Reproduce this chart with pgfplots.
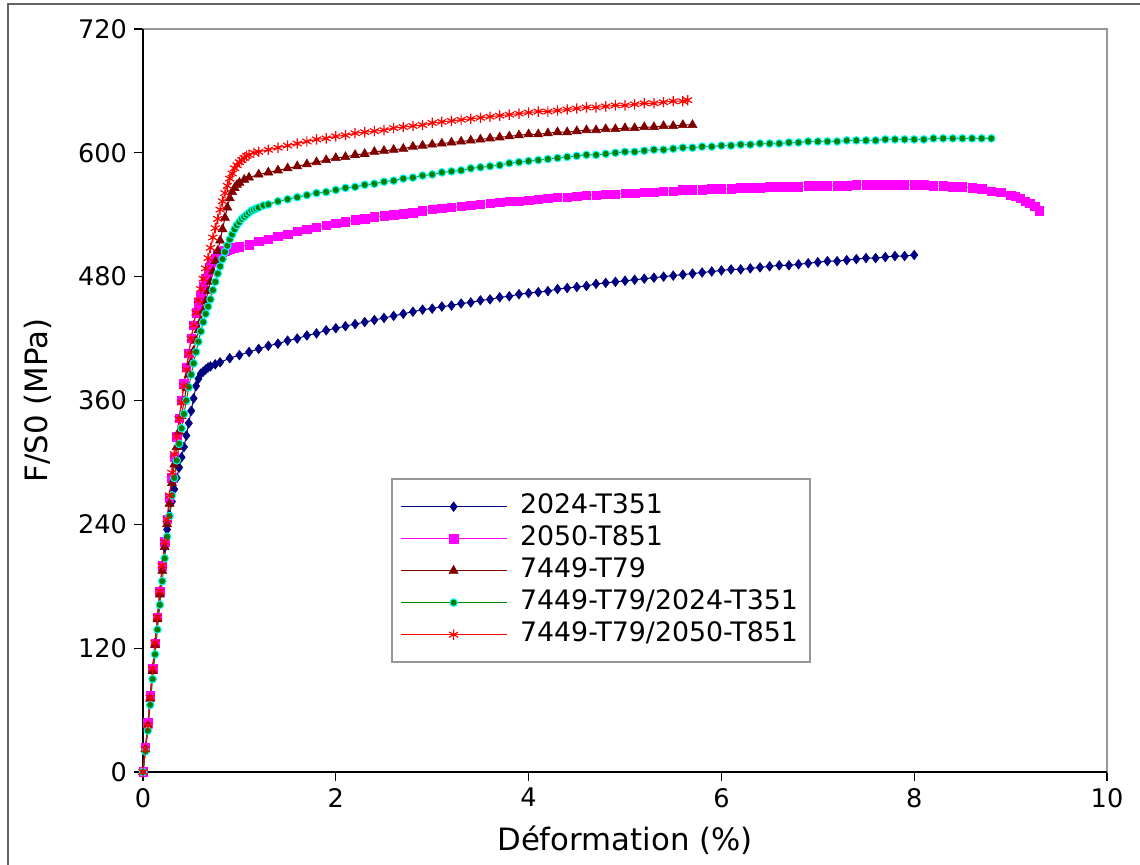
\documentclass[border=0pt]{standalone}
\usepackage{pgfplots}
\pgfplotsset{compat=1.18}
\usepackage{fontspec}
\setmainfont{DejaVu Sans}
\definecolor{cnavy}{RGB}{0,0,128}
\definecolor{cmag}{RGB}{255,0,255}
\definecolor{cmar}{RGB}{128,0,0}
\definecolor{cgrn}{RGB}{0,128,0}
\definecolor{ccyan}{RGB}{0,255,255}
\definecolor{cred}{RGB}{255,0,0}
\definecolor{cframe}{RGB}{100,100,100}
\definecolor{caxis}{RGB}{150,150,150}
\begin{document}
\begin{tikzpicture}
\useasboundingbox (0,0) rectangle (570pt,432.5pt);
\draw[cframe, line width=0.8pt] (4pt,-20pt) rectangle (600pt,430.5pt);
\begin{axis}[
  at={(71.5pt,46.5pt)}, anchor=south west,
  scale only axis, width=482pt, height=371.5pt,
  xmin=0, xmax=10, ymin=0, ymax=720,
  xtick={0,2,4,6,8,10}, ytick={0,120,240,360,480,600,720},
  xtick pos=bottom, ytick pos=left,
  tick align=outside, major tick length=4.5pt,
  tick style={black, line width=0.6pt},
  axis line style={caxis, line width=1pt},
  clip=false,
  /pgf/number format/assume math mode=true,
  tick label style={font=\fontsize{12.8}{15}\selectfont},
  label style={font=\fontsize{15.4}{18}\selectfont},
  xlabel={Déformation (\%)},
  ylabel={F/S0 (MPa)},
  xlabel style={at={(axis description cs:0.5,-0.0915)}, anchor=center},
  ylabel style={at={(axis description cs:-0.1089,0.5)}, anchor=center},
  legend cell align=left,
  legend style={name=leg, at={(0.258,0.394)}, anchor=north west, draw=none, fill=white,
    font=\fontsize{13.4}{16}\selectfont, inner xsep=4pt, inner ysep=5.5pt,
    nodes={inner sep=2pt, text height=9.5pt, text depth=2.5pt}, row sep=0pt,
    /tikz/every odd column/.append style={column sep=4.5pt}},
  legend image code/.code={\draw[mark repeat=2,mark phase=2] plot coordinates {(0pt,0pt) (26.5pt,0pt) (53pt,0pt)};},
]
\draw[black, line width=1pt] (rel axis cs:0,1) -- (rel axis cs:0,0) -- (rel axis cs:1,0);

\addplot[cnavy, line width=0.5pt, mark=diamond*, mark size=2.4pt, mark options={fill=cnavy, draw=cnavy, line width=0.3pt}] coordinates {
(0,0)(0.025,22)(0.05,45)(0.075,72)(0.1,100)(0.125,125)(0.15,150)(0.175,175)(0.2,200)(0.225,218)(0.25,235)(0.275,249)(0.3,262)(0.325,274)(0.35,285)(0.375,295)(0.4,305)(0.425,315)(0.45,326)(0.475,338)(0.5,350)(0.525,362)(0.55,374)(0.575,381)(0.6,386)(0.625,388)(0.65,390)(0.675,392)(0.7,393)(0.75,395)(0.8,397)(0.9,401)(1.0,404)(1.1,407)(1.2,410)(1.3,413)(1.4,415)(1.5,418)(1.6,420)(1.7,423)(1.8,425)(1.9,428)(2.0,430)(2.1,432)(2.2,434)(2.3,436)(2.4,438)(2.5,440)(2.6,442)(2.7,444)(2.8,446)(2.9,448)(3.0,449)(3.1,451)(3.2,452)(3.3,454)(3.4,455)(3.5,457)(3.6,458)(3.7,460)(3.8,461)(3.9,463)(4.0,464)(4.1,465)(4.2,466)(4.3,468)(4.4,469)(4.5,470)(4.6,471)(4.7,473)(4.8,474)(4.9,475)(5.0,476)(5.1,477)(5.2,478)(5.3,479)(5.4,480)(5.5,481)(5.6,482)(5.7,483)(5.8,484)(5.9,485)(6.0,486)(6.1,487)(6.2,487)(6.3,488)(6.4,489)(6.5,490)(6.6,491)(6.7,491)(6.8,492)(6.9,493)(7.0,494)(7.1,495)(7.2,495)(7.3,496)(7.4,497)(7.5,498)(7.6,498)(7.7,499)(7.8,500)(7.9,500)(8.0,501)
};
\addlegendentry{2024-T351}

\addplot[cmag, line width=0.5pt, mark=square*, mark size=2.1pt, mark options={fill=cmag, draw=cmag, line width=0.3pt}] coordinates {
(0,0)(0.025,24)(0.05,48)(0.075,74)(0.1,100)(0.125,125)(0.15,150)(0.175,175)(0.2,200)(0.225,223)(0.25,245)(0.275,265)(0.3,285)(0.325,305)(0.35,325)(0.375,343)(0.4,360)(0.425,376)(0.45,392)(0.475,406)(0.5,420)(0.525,433)(0.55,445)(0.575,454)(0.6,462)(0.625,470)(0.65,478)(0.675,484)(0.7,490)(0.725,494)(0.75,498)(0.775,501)(0.8,503)(0.825,504)(0.85,505)(0.875,506)(0.9,507)(0.95,508)(1.0,509)(1.1,511)(1.2,514)(1.3,516)(1.4,519)(1.5,521)(1.6,524)(1.7,526)(1.8,528)(1.9,530)(2.0,532)(2.1,533)(2.2,535)(2.3,536)(2.4,538)(2.5,539)(2.6,540)(2.7,541)(2.8,542)(2.9,544)(3.0,545)(3.1,546)(3.2,547)(3.3,548)(3.4,549)(3.5,550)(3.6,551)(3.7,552)(3.8,553)(3.9,553)(4.0,554)(4.1,555)(4.2,556)(4.3,557)(4.4,557)(4.5,558)(4.6,559)(4.7,559)(4.8,560)(4.9,560)(5.0,561)(5.1,561)(5.2,562)(5.3,562)(5.4,563)(5.5,563)(5.6,564)(5.7,564)(5.8,564)(5.9,565)(6.0,565)(6.1,565)(6.2,566)(6.3,566)(6.4,566)(6.5,567)(6.6,567)(6.7,567)(6.8,567)(6.9,568)(7.0,568)(7.1,568)(7.2,568)(7.3,568)(7.4,569)(7.5,569)(7.6,569)(7.7,569)(7.8,569)(7.9,569)(8.0,569)(8.1,569)(8.2,568)(8.3,568)(8.4,567)(8.5,567)(8.6,566)(8.7,565)(8.8,563)(8.9,562)(9.0,559)(9.05,558)(9.1,556)(9.15,553)(9.2,551)(9.25,548)(9.3,544)
};
\addlegendentry{2050-T851}

\addplot[cmar, line width=0.5pt, mark=triangle*, mark size=2.6pt, mark options={fill=cmar, draw=cmar, line width=0.3pt}] coordinates {
(0,0)(0.025,22)(0.05,45)(0.075,71)(0.1,98)(0.125,123)(0.15,148)(0.175,172)(0.2,195)(0.225,218)(0.25,240)(0.275,260)(0.3,280)(0.325,298)(0.35,315)(0.375,330)(0.4,345)(0.425,359)(0.45,372)(0.475,385)(0.5,397)(0.525,408)(0.55,418)(0.575,428)(0.6,437)(0.625,447)(0.65,456)(0.675,466)(0.7,475)(0.725,485)(0.75,495)(0.775,505)(0.8,515)(0.825,526)(0.85,537)(0.875,547)(0.9,556)(0.925,562)(0.95,566)(0.975,569)(1.0,571)(1.05,574)(1.1,576)(1.2,579)(1.3,581)(1.4,583)(1.5,585)(1.6,587)(1.7,589)(1.8,591)(1.9,593)(2.0,595)(2.1,596)(2.2,598)(2.3,599)(2.4,601)(2.5,602)(2.6,603)(2.7,604)(2.8,606)(2.9,607)(3.0,608)(3.1,609)(3.2,610)(3.3,611)(3.4,612)(3.5,613)(3.6,614)(3.7,615)(3.8,616)(3.9,617)(4.0,618)(4.1,618)(4.2,619)(4.3,620)(4.4,620)(4.5,621)(4.6,622)(4.7,622)(4.8,623)(4.9,623)(5.0,624)(5.1,624)(5.2,625)(5.3,625)(5.4,626)(5.5,626)(5.6,627)(5.7,627)
};
\addlegendentry{7449-T79}

\addplot[cgrn, line width=0.5pt, mark=*, mark size=1.9pt, mark options={fill=cgrn, draw=ccyan, line width=0.5pt}] coordinates {
(0,0)(0.025,20)(0.05,40)(0.075,65)(0.1,90)(0.125,114)(0.15,138)(0.175,162)(0.2,185)(0.225,207)(0.25,228)(0.275,248)(0.3,268)(0.325,285)(0.35,302)(0.375,318)(0.4,333)(0.425,347)(0.45,360)(0.475,373)(0.5,385)(0.525,396)(0.55,407)(0.575,417)(0.6,427)(0.625,436)(0.65,444)(0.675,451)(0.7,458)(0.725,467)(0.75,475)(0.775,483)(0.8,490)(0.825,497)(0.85,504)(0.875,510)(0.9,516)(0.925,521)(0.95,526)(0.975,530)(1.0,533)(1.025,536)(1.05,538)(1.075,540)(1.1,542)(1.125,544)(1.15,545)(1.175,546)(1.2,547)(1.25,549)(1.3,550)(1.4,553)(1.5,555)(1.6,557)(1.7,559)(1.8,561)(1.9,562)(2.0,564)(2.1,566)(2.2,567)(2.3,569)(2.4,570)(2.5,572)(2.6,573)(2.7,575)(2.8,576)(2.9,578)(3.0,579)(3.1,581)(3.2,582)(3.3,583)(3.4,585)(3.5,586)(3.6,587)(3.7,588)(3.8,590)(3.9,591)(4.0,592)(4.1,593)(4.2,594)(4.3,595)(4.4,596)(4.5,597)(4.6,598)(4.7,598)(4.8,599)(4.9,600)(5.0,601)(5.1,601)(5.2,602)(5.3,603)(5.4,603)(5.5,604)(5.6,605)(5.7,605)(5.8,606)(5.9,606)(6.0,607)(6.1,607)(6.2,608)(6.3,608)(6.4,609)(6.5,609)(6.6,609)(6.7,610)(6.8,610)(6.9,611)(7.0,611)(7.1,611)(7.2,611)(7.3,612)(7.4,612)(7.5,612)(7.6,612)(7.7,613)(7.8,613)(7.9,613)(8.0,613)(8.1,613)(8.2,614)(8.3,614)(8.4,614)(8.5,614)(8.6,614)(8.7,614)(8.8,614)
};
\addlegendentry{7449-T79/2024-T351}

\addplot[cred, line width=0.5pt, mark=asterisk, mark size=2.6pt, mark options={draw=cred, line width=0.6pt}] coordinates {
(0,0)(0.025,22)(0.05,45)(0.075,72)(0.1,100)(0.125,125)(0.15,150)(0.175,175)(0.2,200)(0.225,223)(0.25,245)(0.275,268)(0.3,290)(0.325,308)(0.35,325)(0.375,342)(0.4,358)(0.425,374)(0.45,390)(0.475,405)(0.5,420)(0.525,433)(0.55,445)(0.575,457)(0.6,468)(0.625,478)(0.65,488)(0.675,498)(0.7,508)(0.725,518)(0.75,527)(0.775,536)(0.8,545)(0.825,553)(0.85,561)(0.875,568)(0.9,575)(0.925,580)(0.95,585)(0.975,588)(1.0,591)(1.025,593)(1.05,595)(1.075,597)(1.1,598)(1.15,600)(1.2,601)(1.3,603)(1.4,605)(1.5,607)(1.6,609)(1.7,611)(1.8,613)(1.9,614)(2.0,616)(2.1,617)(2.2,619)(2.3,620)(2.4,621)(2.5,622)(2.6,624)(2.7,625)(2.8,626)(2.9,627)(3.0,629)(3.1,630)(3.2,631)(3.3,632)(3.4,633)(3.5,634)(3.6,635)(3.7,636)(3.8,637)(3.9,638)(4.0,639)(4.1,640)(4.2,640)(4.3,641)(4.4,642)(4.5,643)(4.6,644)(4.7,644)(4.8,645)(4.9,646)(5.0,646)(5.1,647)(5.2,648)(5.3,648)(5.4,649)(5.5,650)(5.6,650)(5.65,651)
};
\addlegendentry{7449-T79/2050-T851}
\end{axis}
\draw[caxis, line width=1pt] (leg.south west) rectangle (leg.north east);
\end{tikzpicture}
\end{document}
